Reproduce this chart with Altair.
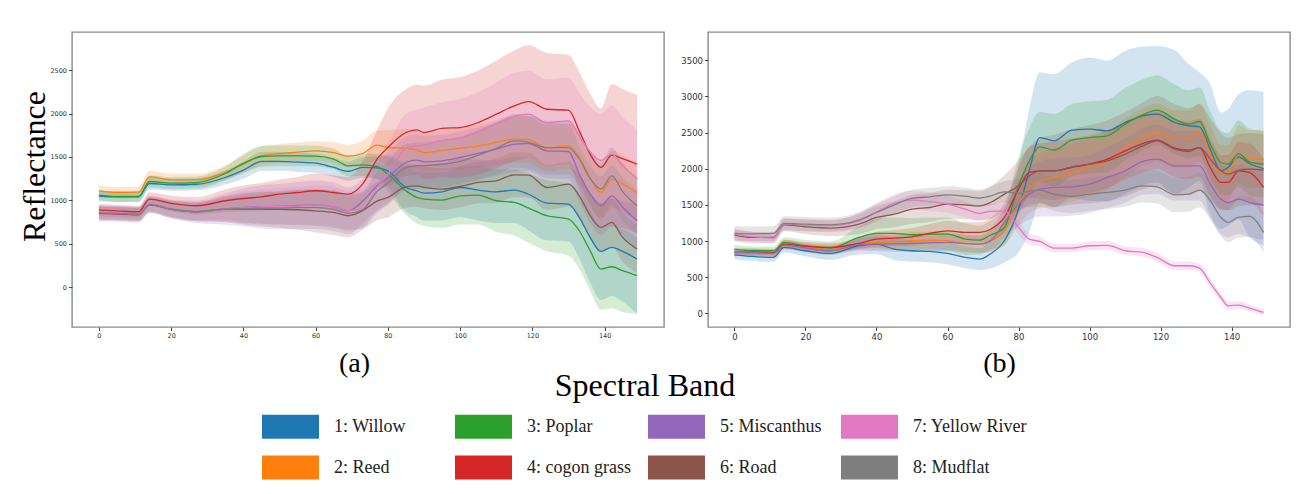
import altair as alt
import pandas as pd

CLASSES = ["1: Willow", "2: Reed", "3: Poplar", "4: cogon grass",
           "5: Miscanthus", "6: Road", "7: Yellow River", "8: Mudflat"]
COLORS = ["#1f77b4", "#ff7f0e", "#2ca02c", "#d62728",
          "#9467bd", "#8c564b", "#e377c2", "#7f7f7f"]

# ---------------- panel (a) ----------------
bands_a = [0, 5, 11, 14, 20, 27, 35, 40, 45, 50, 55, 60, 65, 69, 73, 77, 80, 85, 88, 90,
           95, 100, 105, 110, 115, 119, 124, 130, 133, 136, 139, 142, 145, 149]

willow_a = [1050, 1040, 1040, 1194, 1179, 1185, 1263, 1348, 1448, 1450, 1440, 1428, 1379, 1335, 1379, 1375, 1340,
            1148, 1110, 1083, 1098, 1148, 1117, 1098, 1117, 1070, 968, 956, 803, 572, 411, 457, 411, 323]
reed_a = [1110, 1090, 1095, 1270, 1236, 1235, 1321, 1417, 1513, 1540, 1555, 1570, 1550, 1509, 1540, 1636, 1609,
          1601, 1580, 1551, 1575, 1601, 1625, 1667, 1705, 1700, 1601, 1628, 1494, 1263, 1090, 1244, 1190, 1090]
poplar_a = [1060, 1044, 1044, 1217, 1198, 1205, 1309, 1425, 1505, 1513, 1512, 1509, 1475, 1398, 1409, 1390, 1302,
            1110, 1033, 1014, 1002, 1052, 1060, 995, 975, 910, 822, 783, 649, 419, 207, 234, 188, 131]
cogon_a = [887, 878, 868, 1014, 964, 937, 995, 1021, 1040, 1071, 1090, 1110, 1090, 1071, 1187, 1475, 1609,
           1782, 1812, 1782, 1830, 1839, 1897, 1993, 2089, 2139, 2050, 2039, 1801, 1532, 1379, 1520, 1480, 1417]
misc_a = [849, 845, 833, 956, 899, 868, 899, 918, 925, 929, 940, 948, 925, 879, 990, 1167, 1263,
          1436, 1463, 1444, 1455, 1494, 1540, 1590, 1647, 1655, 1571, 1563, 1302, 1071, 937, 1052, 920, 764]
road_a = [849, 845, 835, 948, 899, 868, 899, 900, 900, 895, 891, 879, 860, 822, 880, 990, 1033,
          1156, 1167, 1148, 1129, 1160, 1206, 1225, 1294, 1290, 1148, 1187, 1052, 822, 687, 745, 572, 438]
river_a = [860, 855, 845, 960, 905, 870, 900, 915, 925, 930, 935, 945, 925, 885, 905, 1148, 1300,
           1600, 1628, 1640, 1690, 1720, 1790, 1880, 1970, 1993, 1896, 1916, 1740, 1560, 1460, 1532, 1400, 1248]
mud_a = [855, 850, 840, 950, 900, 870, 900, 905, 910, 910, 915, 915, 895, 850, 890, 1100, 1200,
         1378, 1397, 1400, 1416, 1450, 1520, 1600, 1685, 1670, 1608, 1608, 1474, 1250, 1129, 1282, 1100, 937]

willow_a_sd = [60, 60, 60, 70, 70, 70, 80, 100, 110, 110, 110, 110, 110, 110, 120, 130, 180,
               280, 300, 320, 330, 340, 350, 360, 380, 420, 430, 430, 470, 520, 560, 560, 580, 630]
reed_a_sd = [60, 60, 60, 70, 70, 70, 80, 100, 110, 110, 110, 110, 120, 130, 150, 170, 200,
             220, 220, 220, 230, 240, 250, 260, 270, 270, 270, 260, 280, 300, 320, 330, 330, 330]
poplar_a_sd = [60, 60, 60, 70, 70, 70, 80, 110, 120, 120, 120, 120, 120, 120, 130, 140, 200,
               280, 300, 310, 320, 330, 340, 360, 380, 400, 410, 420, 440, 460, 470, 480, 480, 440]
cogon_a_sd = [70, 70, 70, 80, 90, 100, 130, 150, 160, 170, 180, 200, 200, 200, 260, 330, 450,
              500, 520, 540, 560, 580, 600, 620, 640, 650, 650, 640, 680, 700, 680, 820, 800, 800]
misc_a_sd = [90, 90, 90, 100, 110, 130, 180, 220, 250, 260, 270, 280, 280, 270, 260, 280, 290,
             300, 300, 300, 300, 300, 300, 310, 320, 320, 320, 320, 320, 330, 340, 350, 350, 350]
road_a_sd = [80, 80, 80, 90, 100, 110, 150, 180, 200, 210, 230, 250, 260, 250, 220, 220, 230,
             240, 240, 240, 240, 240, 240, 250, 260, 260, 260, 260, 260, 270, 280, 280, 280, 280]
river_a_sd = [80, 80, 80, 90, 100, 110, 150, 180, 200, 210, 220, 230, 230, 220, 230, 300, 350,
              400, 420, 430, 440, 450, 460, 480, 500, 500, 500, 500, 500, 520, 540, 560, 560, 560]
mud_a_sd = [70, 70, 70, 80, 90, 100, 130, 160, 180, 190, 200, 210, 210, 200, 200, 230, 250,
            270, 270, 270, 280, 280, 290, 300, 310, 310, 310, 310, 310, 320, 330, 330, 330, 330]

# ---------------- panel (b) ----------------
bands_b = [0, 5, 11, 14, 20, 27, 35, 40, 45, 50, 55, 60, 65, 69, 72, 76, 80, 83, 86, 90,
           95, 100, 105, 110, 115, 119, 124, 128, 131, 134, 137, 139, 142, 145, 149]

willow_b = [810, 787, 774, 912, 866, 829, 935, 958, 889, 866, 857, 829, 774, 751, 820, 1004, 1441, 1971,
            2431, 2385, 2533, 2547, 2524, 2639, 2731, 2754, 2639, 2593, 2579, 2270, 1971, 2017, 2164, 2072, 2003]
reed_b = [843, 840, 829, 958, 912, 889, 958, 981, 990, 1004, 1013, 1004, 967, 958, 1000, 1142, 1510, 1741,
          1833, 1879, 1948, 2017, 2109, 2293, 2431, 2501, 2408, 2408, 2501, 2201, 1948, 1948, 2201, 2132, 2132]
poplar_b = [889, 866, 866, 981, 935, 903, 1050, 1105, 1105, 1087, 1095, 1096, 1027, 1013, 1080, 1188, 1764, 2109,
            2303, 2256, 2395, 2431, 2455, 2616, 2745, 2809, 2685, 2616, 2653, 2339, 2086, 2063, 2210, 2095, 2063]
cogon_b = [843, 850, 840, 958, 926, 912, 967, 1027, 1041, 1059, 1105, 1142, 1119, 1119, 1160, 1326, 1718, 1948,
           1971, 1971, 2017, 2063, 2132, 2247, 2348, 2395, 2284, 2256, 2293, 2017, 1810, 1810, 1971, 1948, 1741]
misc_b = [843, 840, 830, 944, 903, 866, 949, 958, 962, 967, 975, 981, 965, 958, 1000, 1257, 1510, 1649,
          1718, 1741, 1750, 1787, 1879, 1971, 2100, 2132, 2040, 2040, 2040, 1787, 1580, 1533, 1580, 1533, 1501]
road_b = [1082, 1050, 1050, 1225, 1197, 1179, 1234, 1326, 1372, 1441, 1464, 1510, 1501, 1487, 1530, 1649, 1764, 1900,
          1971, 1971, 2026, 2063, 2109, 2201, 2316, 2385, 2270, 2238, 2293, 2132, 1971, 1925, 1980, 1994, 1980]
river_b = [1096, 1060, 1041, 1234, 1220, 1215, 1280, 1400, 1520, 1566, 1545, 1510, 1440, 1382, 1410, 1418, 1188, 1027,
           995, 903, 903, 935, 940, 866, 843, 774, 659, 659, 626, 420, 220, 106, 115, 74, 14]
mud_b = [1105, 1100, 1105, 1243, 1234, 1225, 1289, 1395, 1501, 1589, 1612, 1639, 1620, 1593, 1620, 1680, 1658, 1690,
         1704, 1649, 1616, 1649, 1672, 1704, 1764, 1750, 1639, 1649, 1704, 1557, 1326, 1257, 1330, 1340, 1119]

willow_b_sd = [60, 60, 60, 70, 80, 90, 120, 140, 150, 150, 150, 150, 150, 150, 200, 300, 600, 850,
               900, 920, 935, 990, 970, 990, 960, 944, 1000, 850, 750, 900, 806, 806, 866, 1013, 1060]
reed_b_sd = [50, 50, 50, 60, 60, 60, 80, 100, 110, 120, 120, 120, 120, 120, 150, 200, 300, 350,
             380, 400, 400, 400, 400, 400, 400, 400, 400, 400, 400, 400, 380, 380, 400, 400, 400]
poplar_b_sd = [60, 60, 60, 70, 80, 90, 150, 200, 220, 230, 230, 230, 220, 200, 200, 250, 400, 450,
               480, 500, 500, 500, 500, 500, 490, 484, 480, 470, 470, 460, 440, 430, 460, 460, 460]
cogon_b_sd = [50, 50, 50, 60, 60, 60, 80, 100, 110, 120, 130, 140, 140, 140, 160, 200, 300, 350,
              380, 400, 400, 400, 400, 400, 400, 400, 400, 400, 400, 400, 380, 380, 400, 400, 400]
misc_b_sd = [50, 50, 50, 60, 60, 60, 80, 100, 110, 120, 120, 120, 120, 120, 150, 200, 300, 350,
             380, 400, 400, 400, 420, 440, 460, 480, 480, 480, 480, 480, 480, 480, 480, 480, 480]
road_b_sd = [80, 80, 80, 90, 100, 110, 140, 160, 180, 200, 200, 200, 200, 200, 220, 260, 350, 400,
             450, 500, 520, 540, 560, 580, 600, 620, 620, 600, 600, 560, 520, 500, 500, 500, 500]
river_b_sd = [70, 70, 70, 70, 80, 80, 100, 120, 130, 130, 130, 120, 110, 100, 100, 100, 90, 80,
              70, 60, 60, 60, 60, 60, 60, 60, 60, 60, 60, 60, 60, 60, 50, 50, 40]
mud_b_sd = [100, 100, 100, 100, 100, 100, 110, 120, 120, 120, 120, 120, 120, 120, 130, 150, 200, 220,
            230, 230, 230, 230, 230, 230, 230, 230, 240, 240, 240, 250, 260, 270, 280, 280, 280]

means_a = [willow_a, reed_a, poplar_a, cogon_a, misc_a, road_a, river_a, mud_a]
sds_a = [willow_a_sd, reed_a_sd, poplar_a_sd, cogon_a_sd, misc_a_sd, road_a_sd, river_a_sd, mud_a_sd]
means_b = [willow_b, reed_b, poplar_b, cogon_b, misc_b, road_b, river_b, mud_b]
sds_b = [willow_b_sd, reed_b_sd, poplar_b_sd, cogon_b_sd, misc_b_sd, road_b_sd, river_b_sd, mud_b_sd]


def build(bands, means, sds):
    rows = []
    for k, (m, s) in enumerate(zip(means, sds)):
        for b, mv, sv in zip(bands, m, s):
            rows.append({"cls": CLASSES[k], "order": k, "band": b,
                         "mean": mv, "lo": mv - sv, "hi": mv + sv})
    return pd.DataFrame(rows)


df_a = build(bands_a, means_a, sds_a)
df_b = build(bands_b, means_b, sds_b)

color_scale = alt.Scale(domain=CLASSES, range=COLORS)

legend = alt.Legend(
    orient="none", legendX=190, legendY=339, columns=4, gridAlign="all",
    title="Spectral Band", titleFont="Liberation Serif", titleFontSize=32, titleLimit=2000,
    titleFontWeight="normal", titleColor="black", titleAnchor="middle", titlePadding=-5,
    labelFont="Liberation Serif", labelFontSize=18, labelColor="#222", labelOffset=15,
    labelLimit=400,
    symbolType="M-1,-0.42H1V0.42H-1Z", symbolSize=3249, symbolStrokeWidth=0,
    symbolOpacity=1, rowPadding=-15, columnPadding=6, padding=0,
)

X_DOMAIN = [-7.45, 156.45]
X_TICKS = [0, 20, 40, 60, 80, 100, 120, 140]


def panel(df, label, ydomain, yticks, width, label_size, ytitle, title_x, title_pad):
    base = alt.Chart(df)
    xaxis_kw = dict(values=X_TICKS, title=label, titleFont="Liberation Serif",
                    titleFontSize=28, titleFontWeight="normal", titleColor="black",
                    titlePadding=title_pad, labelFontSize=label_size, format="d")
    if title_x is not None:
        xaxis_kw["titleX"] = title_x
    x = alt.X("band:Q", scale=alt.Scale(domain=X_DOMAIN, nice=False, zero=False),
              axis=alt.Axis(**xaxis_kw))
    yscale = alt.Scale(domain=ydomain, nice=False, zero=False)
    yaxis_kw = dict(values=yticks, labelFontSize=label_size, format="d")
    if ytitle:
        yaxis_kw.update(title=ytitle, titleFont="Liberation Serif", titleFontSize=32,
                        titleFontWeight="normal", titleColor="black", titlePadding=-2, titleY=134)
    else:
        yaxis_kw.update(title=None)
    band_layer = base.mark_area(opacity=0.2, interpolate="monotone").encode(
        x=x,
        y=alt.Y("lo:Q", scale=yscale, axis=alt.Axis(**yaxis_kw)),
        y2="hi:Q",
        color=alt.Color("cls:N", scale=color_scale, legend=legend),
        order="order:Q",
    )
    line_layer = base.mark_line(strokeWidth=1.3, interpolate="monotone").encode(
        x=x,
        y=alt.Y("mean:Q", scale=yscale),
        color=alt.Color("cls:N", scale=color_scale, legend=None),
        detail="cls:N",
    )
    return alt.layer(band_layer, line_layer).properties(width=width, height=295)


pa = panel(df_a, "(a)", [-461, 2941], [0, 500, 1000, 1500, 2000, 2500], 592, 6.5,
           "Reflectance", 282, 10)
pb = panel(df_b, "(b)", [-188, 3890], [0, 500, 1000, 1500, 2000, 2500, 3000, 3500], 582, 8.5,
           None, None, 8)

chart = alt.hconcat(pa, pb, spacing=15).properties(
    padding={"left": 10, "top": 23, "right": 0, "bottom": 0},
    background="white",
).configure_view(
    stroke="#8a8a8a", strokeWidth=1.4
).configure_axis(
    grid=False, domain=False, labelFont="DejaVu Sans", labelColor="#333",
    tickColor="#444", tickSize=3.5, labelPadding=2,
)

chart.save("out.html", embed_options={"renderer": "svg", "actions": False})
